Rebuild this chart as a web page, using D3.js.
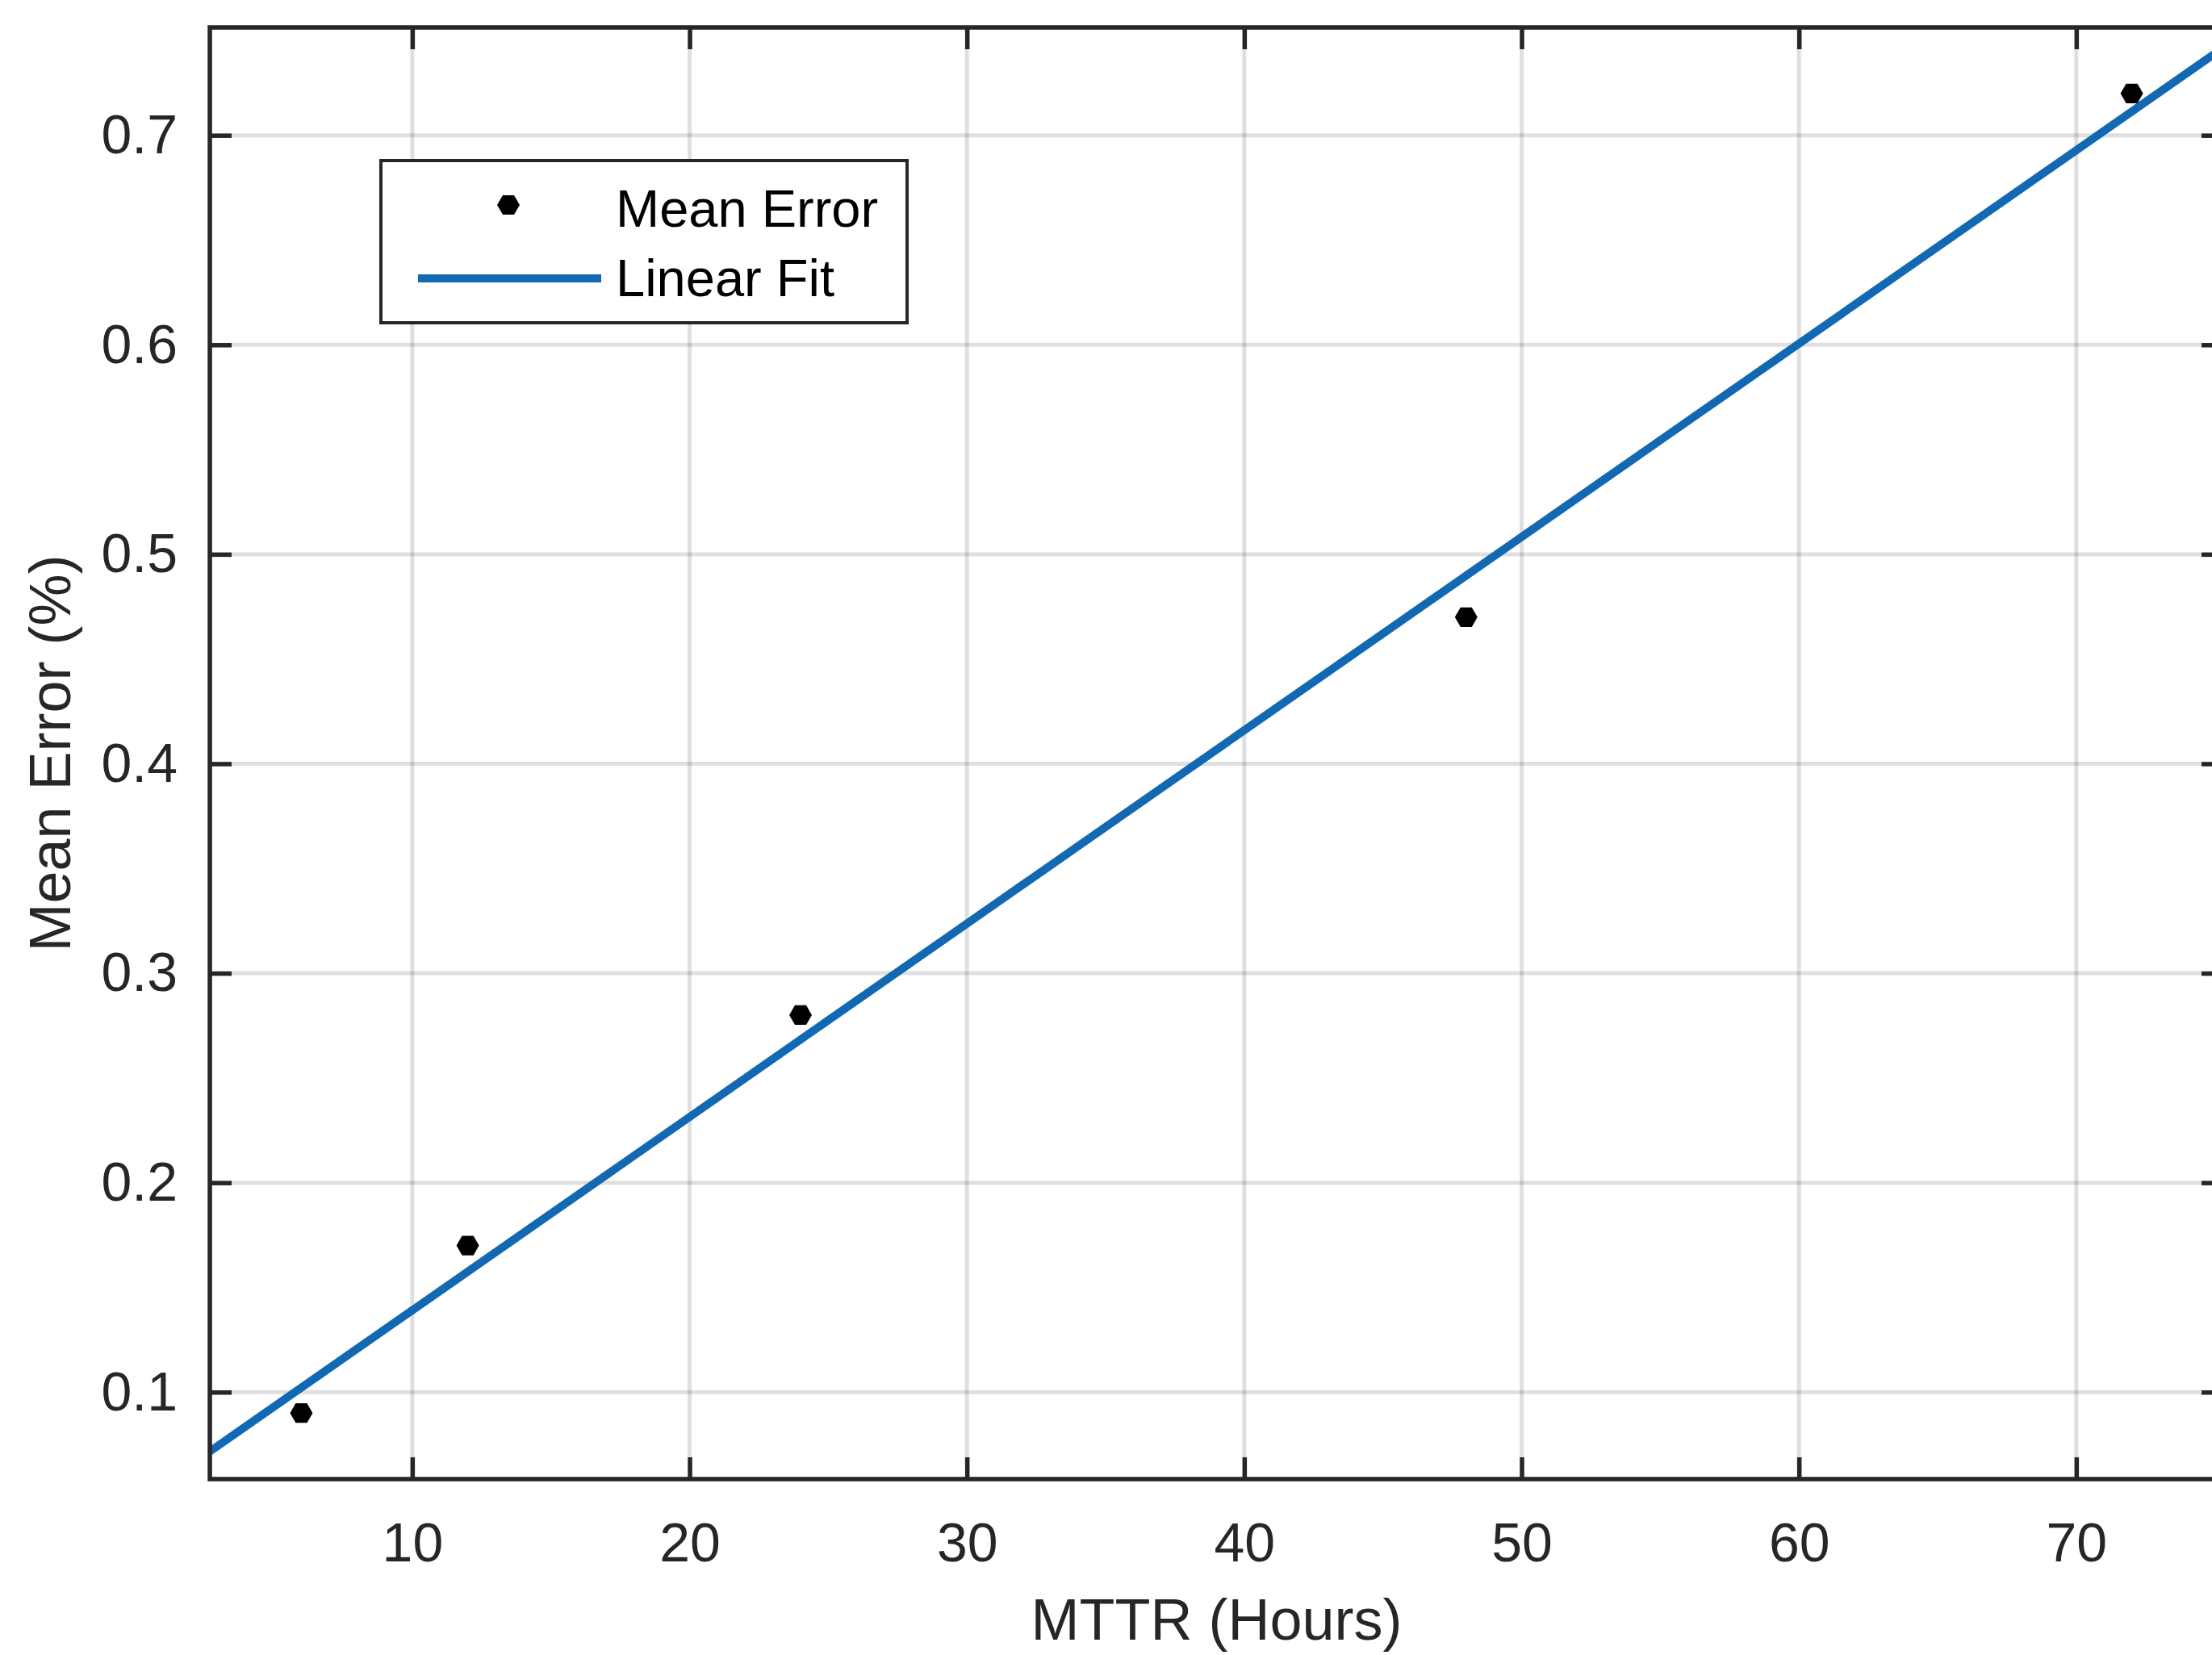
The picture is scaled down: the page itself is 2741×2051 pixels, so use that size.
<!DOCTYPE html>
<html>
<head>
<meta charset="utf-8">
<script src="https://cdn.jsdelivr.net/npm/d3@7"></script>
<style>
  body { margin: 0; background: #fff; }
  svg { display: block; font-family: Arial, "Liberation Sans", Helvetica, sans-serif; }
</style>
</head>
<body>
<div id="chart"></div>
<script>
// data
const mttrHours = [6, 12, 24, 48, 72]
const meanError = [0.09, 0.17, 0.28, 0.47, 0.72]
// linear fit end points (as drawn, across the x range)
const fitX = [2.7, 75.3]
const fitY = [0.0717, 0.7418]
const xTicks = [10, 20, 30, 40, 50, 60, 70]
const yTicks = [0.1, 0.2, 0.3, 0.4, 0.5, 0.6, 0.7]
const xDomain = [2.7, 75.3]
const yDomain = [0.0585, 0.7515]

const W = 2741, H = 2051
const margin = {top: 34, left: 260, right: W - 2755, bottom: H - 1833}
const axisColor = '#262626'
const blue = '#1368b3'

const svg = d3.select('#chart').append('svg')
  .attr('width', W).attr('height', H)

const x = d3.scaleLinear().domain(xDomain).range([margin.left, W - margin.right])
const y = d3.scaleLinear().domain(yDomain).range([H - margin.bottom, margin.top])

svg.append('defs').append('clipPath').attr('id', 'plot-clip')
  .append('rect')
  .attr('x', margin.left).attr('y', margin.top)
  .attr('width', x.range()[1] - margin.left)
  .attr('height', y.range()[0] - margin.top)

// grid
const grid = svg.append('g').attr('stroke', axisColor).attr('stroke-opacity', 0.15).attr('stroke-width', 5)
grid.selectAll('.gx').data(xTicks).join('line')
  .attr('class', 'gx')
  .attr('x1', d => x(d)).attr('x2', d => x(d))
  .attr('y1', y.range()[1]).attr('y2', y.range()[0])
grid.selectAll('.gy').data(yTicks).join('line')
  .attr('class', 'gy')
  .attr('y1', d => y(d)).attr('y2', d => y(d))
  .attr('x1', x.range()[0]).attr('x2', x.range()[1])

// fit line
const line = d3.line().x(d => x(d[0])).y(d => y(d[1]))
svg.append('path')
  .datum(d3.zip(fitX, fitY))
  .attr('clip-path', 'url(#plot-clip)')
  .attr('d', line)
  .attr('fill', 'none')
  .attr('stroke', blue)
  .attr('stroke-width', 10)

// hexagon markers
const hexR = 14
const hexPts = d3.range(6).map(i => {
  const a = i * Math.PI / 3
  return [hexR * Math.cos(a), hexR * Math.sin(a)]
})
const hexD = 'M' + hexPts.map(p => p.join(',')).join('L') + 'Z'

svg.append('g').selectAll('path')
  .data(d3.zip(mttrHours, meanError))
  .join('path')
  .attr('transform', d => `translate(${x(d[0])},${y(d[1])})`)
  .attr('d', hexD)
  .attr('fill', '#000')

// axes, ticks inside on all four sides
const tickLen = 27
const tickFont = 68
const axes = svg.append('g')

axes.append('g').attr('transform', `translate(0,${y.range()[0]})`)
  .call(d3.axisBottom(x).tickValues(xTicks).tickSizeInner(-tickLen).tickSizeOuter(0).tickPadding(54))
axes.append('g').attr('transform', `translate(0,${y.range()[1]})`)
  .call(d3.axisTop(x).tickValues(xTicks).tickSizeInner(-tickLen).tickSizeOuter(0).tickFormat(''))
axes.append('g').attr('transform', `translate(${x.range()[0]},0)`)
  .call(d3.axisLeft(y).tickValues(yTicks).tickSizeInner(-tickLen).tickSizeOuter(0).tickPadding(40).tickFormat(d3.format('.1f')))
axes.append('g').attr('transform', `translate(${x.range()[1]},0)`)
  .call(d3.axisRight(y).tickValues(yTicks).tickSizeInner(-tickLen).tickSizeOuter(0).tickFormat(''))

axes.selectAll('.domain').remove()
axes.selectAll('.tick line').attr('stroke', axisColor).attr('stroke-width', 5.5)
axes.selectAll('.tick text')
  .attr('fill', axisColor)
  .style('font-size', tickFont + 'px')
  .style('font-family', 'Arial, "Liberation Sans", sans-serif')

// box
svg.append('rect')
  .attr('x', x.range()[0]).attr('y', y.range()[1])
  .attr('width', x.range()[1] - x.range()[0])
  .attr('height', y.range()[0] - y.range()[1])
  .attr('fill', 'none')
  .attr('stroke', axisColor)
  .attr('stroke-width', 5.5)

// axis labels
svg.append('text')
  .attr('x', (x.range()[0] + x.range()[1]) / 2)
  .attr('y', 2032)
  .attr('text-anchor', 'middle')
  .attr('fill', axisColor)
  .style('font-size', '72px')
  .text('MTTR (Hours)')

svg.append('text')
  .attr('transform', `translate(87,${(y.range()[0] + y.range()[1]) / 2}) rotate(-90)`)
  .attr('text-anchor', 'middle')
  .attr('fill', axisColor)
  .style('font-size', '72px')
  .text('Mean Error (%)')

// legend
const legend = svg.append('g')
legend.append('rect')
  .attr('x', 472).attr('y', 199)
  .attr('width', 652).attr('height', 201)
  .attr('fill', '#fff')
  .attr('stroke', axisColor)
  .attr('stroke-width', 4)

legend.append('path')
  .attr('transform', 'translate(630,254)')
  .attr('d', hexD)
  .attr('fill', '#000')

legend.append('line')
  .attr('x1', 518).attr('x2', 745)
  .attr('y1', 345).attr('y2', 345)
  .attr('stroke', blue)
  .attr('stroke-width', 10)

legend.selectAll('text.lg')
  .data(['Mean Error', 'Linear Fit'])
  .join('text')
  .attr('class', 'lg')
  .attr('x', 763)
  .attr('y', (d, i) => 281 + i * 86)
  .attr('fill', '#000')
  .style('font-size', '65px')
  .text(d => d)
</script>
</body>
</html>
